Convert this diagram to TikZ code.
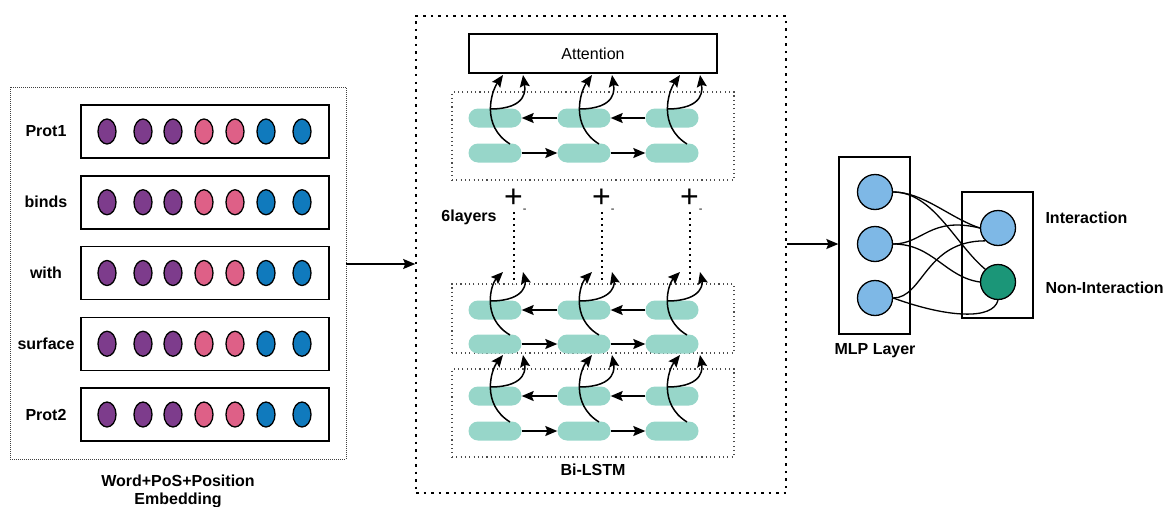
\documentclass[tikz,border=0pt]{standalone}
\usepackage{fontspec}
\setmainfont{Liberation Sans}
\usepackage{tikz}
\usetikzlibrary{arrows.meta,shapes.geometric}
\definecolor{wordpurple}{HTML}{7D3C8C}
\definecolor{pospink}{HTML}{DE6087}
\definecolor{posblue}{HTML}{107ABD}
\definecolor{lstmteal}{HTML}{97D6C9}
\definecolor{mlpblue}{HTML}{7EB8E6}
\definecolor{outgreen}{HTML}{1B9678}
\tikzstyle{es} = [-{Stealth[length=12pt,width=10pt,inset=2pt]}, line width=1.5pt]
\tikzstyle{grp} = [draw=black!70, line width=1.1pt, dash pattern=on 1.1pt off 3.2pt]
\tikzstyle{rowbox} = [draw, line width=1.5pt, minimum width=248pt, minimum height=53pt, inner sep=0pt]
\tikzstyle{emb} = [ellipse, draw, line width=1.3pt, minimum width=18pt, minimum height=25pt, inner sep=0pt]
\tikzstyle{cell} = [fill=lstmteal, rounded corners=9.5pt, minimum width=53pt, minimum height=19pt, inner sep=0pt]
\tikzstyle{unit} = [circle, draw, line width=1.3pt, minimum size=35pt, inner sep=0pt]
\tikzstyle{lbl} = [font=\fontsize{16}{18}\selectfont\bfseries]
\tikzstyle{wire} = [line width=1.3pt]

\begin{document}
\begin{tikzpicture}[x=1pt,y=-1pt]
			\useasboundingbox (0,0) rectangle (1164,506);
			\node[draw=black!75, line width=1pt, dash pattern=on 1pt off 1pt, minimum width=336pt, minimum height=372pt] (lpanel) at (178,273) {};
			\foreach \word [count=\i] in {Prot1,binds,with,surface,Prot2}{
				\pgfmathsetmacro{\ry}{131.5+70.75*(\i-1)}
				\node[rowbox] (row\i) at (205,\ry) {};
				\node[lbl] (w\i) at (46,\ry) {\word};
				\foreach \ex/\col [count=\j] in {107/wordpurple,143/wordpurple,173/wordpurple,204/pospink,235/pospink,266/posblue,302/posblue}
					\node[emb, fill=\col] (e\i\j) at (\ex,\ry) {};
			}
			\node[lbl, align=center] (embcap) at (178,491) {Word+PoS+Position\\Embedding};
			\node[draw, line width=1.6pt, dash pattern=on 2.5pt off 5pt, minimum width=370pt, minimum height=477pt] (bilstm) at (601,254.5) {};
			\coordinate (a1) at (346,264);
			\draw[es] (a1) -- (a1 -| bilstm.west);
			\node[draw, line width=1.3pt, minimum width=248pt, minimum height=39pt, font=\fontsize{16}{18}\selectfont] (att) at (593,53.5) {Attention};
			\node[grp, minimum width=282pt, minimum height=88pt] (gt) at (593,136) {};
			\node[grp, minimum width=282pt, minimum height=69pt] (gm) at (593,318.5) {};
			\node[grp, minimum width=282pt, minimum height=88pt] (gb) at (593,413) {};
			\foreach \g/\yb/\yf/\ty in {t/118/153/75, m/310/344/272, b/396/431/355}{
				\foreach \cx [count=\c] in {495,584,672}{
					\node[cell] (\g b\c) at (\cx,\yb) {};
					\node[cell] (\g f\c) at (\cx,\yf) {};
				}
				\draw[es] (\g f1.east) -- (\g f2.west);
				\draw[es] (\g f2.east) -- (\g f3.west);
				\draw[es] (\g b2.west) -- (\g b1.east);
				\draw[es] (\g b3.west) -- (\g b2.east);
				\foreach \cx in {495,584,672}{
					\draw[es] ({\cx+15},{\yf-9}) .. controls ({\cx-14},{\yb+8}) and ({\cx-4},{\yb-26}) .. ({\cx+8},\ty);
					\draw[es] ({\cx-5},{\yb-9}) .. controls ({\cx+34},{\yb-9}) and ({\cx+30},{\yb-30}) .. ({\cx+28},\ty);
				}
			}
			\foreach \px [count=\c] in {514,602,690}{
				\node[anchor=west, inner sep=0pt] (pm\c) at ({\px-10},201) {\fontsize{32}{32}\selectfont+\raisebox{-5pt}{\fontsize{11}{11}\selectfont -}};
				\draw[line width=1.6pt, dash pattern=on 2pt off 4pt] (\px,212) -- (\px,284);
			}
			\node[lbl] (nlayers) at (469,217) {6layers};
			\node[lbl] (bilbl) at (593,470) {Bi-LSTM};
			\node[draw, line width=1.3pt, minimum width=71pt, minimum height=177pt] (mlp) at (874.5,245.5) {};
			\foreach \hy [count=\k] in {192,244,298}
				\node[unit, fill=mlpblue] (h\k) at (875,\hy) {};
			\node[lbl] (mlplbl) at (875,351) {MLP Layer};
			\draw[es] (bilstm.east |- h2) -- (mlp.west |- h2);
			\node[draw, line width=1.3pt, minimum width=71pt, minimum height=126pt] (outbox) at (997.5,255) {};
			\node[unit, fill=mlpblue] (o1) at (998,228) {};
			\node[unit, fill=outgreen] (o2) at (998,282) {};
			\node[lbl, anchor=west] (yes) at (1042,218) {Interaction};
			\node[lbl, anchor=west] (no) at (1042,288) {Non-Interaction};
			\draw[wire] (h1.east) .. controls +(30,0) and +(-30,-10) .. (o1.west);
			\draw[wire] (h1.east) .. controls +(40,0) and +(-30,-25) .. (o2.north west);
			\draw[wire] (h2.east) .. controls +(30,0) and +(-50,-12) .. (o1.west);
			\draw[wire] (h2.east) .. controls +(40,0) and +(-35,-5) .. (o2.west);
			\draw[wire] (h3.east) .. controls +(30,0) and +(-60,0) .. (o1.south west);
			\draw[wire] (h3.east) .. controls +(55,20) and +(-5,20) .. (o2.south);
\end{tikzpicture}
\end{document}
